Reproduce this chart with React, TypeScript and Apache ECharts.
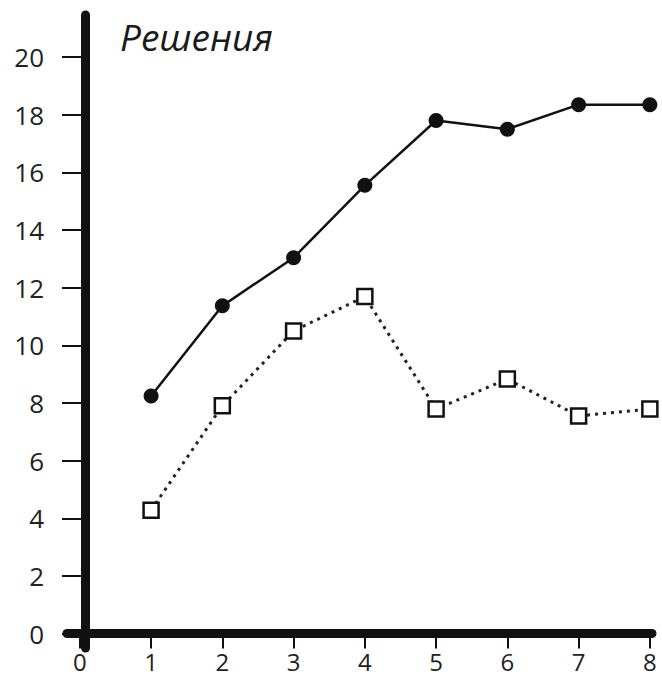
import React, { useEffect, useRef } from "react";
import * as echarts from "echarts";

const xValues = [1, 2, 3, 4, 5, 6, 7, 8];
const solidSeries = [8.24, 11.37, 13.04, 15.55, 17.8, 17.5, 18.35, 18.35];
const dottedSeries = [4.28, 7.9, 10.5, 11.69, 7.79, 8.83, 7.55, 7.79];
const xTicks = [0, 1, 2, 3, 4, 5, 6, 7, 8];
const yTicks = [0, 2, 4, 6, 8, 10, 12, 14, 16, 18, 20];
const titleText = "Решения";

export default function App() {
  const ref = useRef<HTMLDivElement>(null);
  useEffect(() => {
    if (!ref.current) return;
    const chart = echarts.init(ref.current, null, { renderer: "svg" });
    const font = "'Open Sans', sans-serif";
    chart.setOption({
      animation: false,
      backgroundColor: "#ffffff",
      title: {
        text: titleText,
        left: 115,
        top: 13,
        textStyle: {
          fontFamily: font,
          fontStyle: "italic",
          fontWeight: "normal",
          fontSize: 37,
          color: "#1a1a1a",
        },
      },
      grid: { left: 67, right: 10, top: 15, bottom: 31 },
      xAxis: {
        type: "value",
        min: -0.18,
        max: 8.03,
        axisLine: { show: true, onZero: true, lineStyle: { color: "#111", width: 9 } },
        axisTick: {
          show: true,
          customValues: xTicks,
          length: 15,
          lineStyle: { color: "#111", width: 2 },
        },
        axisLabel: {
          customValues: xTicks,
          margin: 1,
          lineHeight: 24,
          fontFamily: font,
          fontSize: 24,
          color: "#222",
        },
        splitLine: { show: false },
      },
      yAxis: {
        type: "value",
        min: -0.5,
        max: 21.46,
        offset: -18,
        axisLine: { show: true, onZero: false, lineStyle: { color: "#111", width: 9 } },
        axisTick: {
          show: true,
          customValues: yTicks,
          length: 23,
          lineStyle: { color: "#111", width: 2 },
        },
        axisLabel: {
          customValues: yTicks,
          margin: 41,
          fontFamily: font,
          fontSize: 26,
          color: "#222",
        },
        splitLine: { show: false },
      },
      series: [
        {
          type: "line",
          data: xValues.map((x, i) => [x, solidSeries[i]]),
          symbol: "circle",
          symbolSize: 15,
          itemStyle: { color: "#111" },
          lineStyle: { color: "#111", width: 2.5, type: "solid" },
          z: 3,
        },
        {
          type: "line",
          data: xValues.map((x, i) => [x, dottedSeries[i]]),
          symbol: "rect",
          symbolSize: 15,
          itemStyle: { color: "#fff", borderColor: "#111", borderWidth: 2.5 },
          lineStyle: { color: "#222", width: 3, type: [3, 5] },
          z: 3,
        },
      ],
    });
    return () => chart.dispose();
  }, []);
  return (
    <div
      ref={ref}
      style={{ position: "absolute", left: 0, top: 0, width: 662, height: 679 }}
    />
  );
}
